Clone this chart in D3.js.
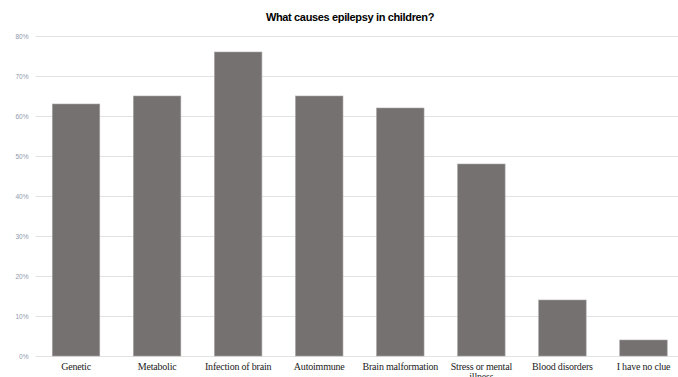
<!DOCTYPE html>
<html>
<head>
<meta charset="utf-8">
<script src="https://cdn.jsdelivr.net/npm/d3@7"></script>
<style>
  html, body { margin: 0; padding: 0; background: #fff; overflow: hidden; }
  svg { display: block; }
</style>
</head>
<body>
<svg id="chart" width="678" height="377"></svg>
<script>
// Survey answers: share of respondents naming each cause
const categories = ["Genetic", "Metabolic", "Infection of brain", "Autoimmune",
  "Brain malformation", "Stress or mental illness", "Blood disorders", "I have no clue"];
const values = [63, 65, 76, 65, 62, 48, 14, 4];
const yTicks = [0, 10, 20, 30, 40, 50, 60, 70, 80];
const title = "What causes epilepsy in children?";

const svg = d3.select("#chart");
const W = 678, H = 377;
const m = { left: 35.5, right: -6, top: 36, bottom: 21 };

const x = d3.scaleBand()
  .domain(categories)
  .range([m.left, W - m.right])
  .paddingInner(0.414)
  .paddingOuter(0.207);

const y = d3.scaleLinear()
  .domain([0, 80])
  .range([H - m.bottom, m.top]);

// Title
svg.append("text")
  .attr("x", 350)
  .attr("y", 21)
  .attr("text-anchor", "middle")
  .attr("font-family", "Liberation Sans, Arial, sans-serif")
  .attr("font-weight", "bold")
  .attr("font-size", 11)
  .attr("letter-spacing", -0.35)
  .attr("fill", "#000")
  .text(title);

// Horizontal gridlines + percent labels
const yAxis = d3.axisLeft(y)
  .tickValues(yTicks)
  .tickFormat(d => d + "%")
  .tickSize(-(W - m.left + 2))
  .tickPadding(7);

const gy = svg.append("g")
  .attr("transform", `translate(${m.left},0)`)
  .call(yAxis);
gy.select(".domain").remove();
gy.selectAll(".tick line")
  .attr("stroke", "#e3e3e3")
  .attr("stroke-width", 1.2);
gy.selectAll(".tick text")
  .attr("fill", "#8d99ad")
  .attr("font-family", "Liberation Sans, Arial, sans-serif")
  .attr("font-size", 6.5);

// Bars
svg.append("g")
  .selectAll("rect")
  .data(values)
  .join("rect")
  .attr("x", (d, i) => x(categories[i]))
  .attr("y", d => y(d))
  .attr("width", x.bandwidth())
  .attr("height", d => y(0) - y(d))
  .attr("fill", "#767171")
  .attr("stroke", "#a9a5a5")
  .attr("stroke-width", 0.6);

// Category labels (wrapped into the band width)
const xAxis = d3.axisBottom(x).tickSize(0).tickPadding(7);
const gx = svg.append("g")
  .attr("transform", `translate(0,${y(0)})`)
  .call(xAxis);
gx.select(".domain").remove();
gx.selectAll(".tick text")
  .attr("fill", "#222")
  .attr("font-family", "Liberation Serif, Times New Roman, serif")
  .attr("font-size", 10)
  .attr("letter-spacing", -0.2)
  .each(function(d) {
    const t = d3.select(this);
    const words = d.split(" ");
    const maxW = x.step() - 4;
    t.text(null);
    let line = [];
    let ts = t.append("tspan").attr("x", 0).attr("dy", "0.71em");
    for (const w of words) {
      line.push(w);
      ts.text(line.join(" "));
      if (ts.node().getComputedTextLength() > maxW && line.length > 1) {
        line.pop();
        ts.text(line.join(" "));
        line = [w];
        ts = t.append("tspan").attr("x", 0).attr("dy", "1.0em").text(w);
      }
    }
  });
</script>
</body>
</html>
